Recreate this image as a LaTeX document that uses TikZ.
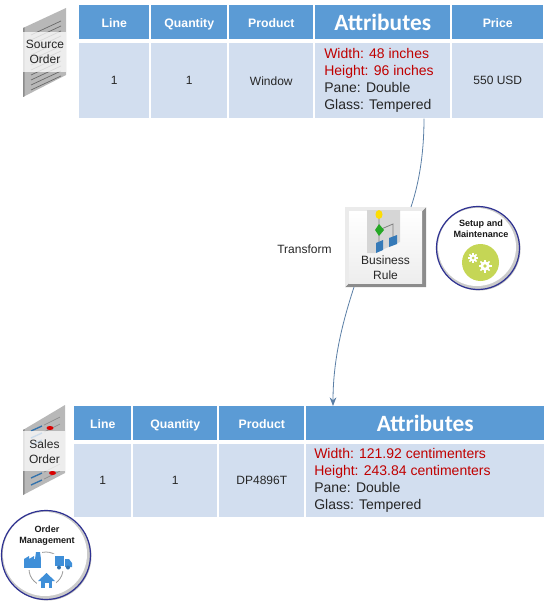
\documentclass[tikz,border=0pt]{standalone}
\usepackage{fontspec}
\setmainfont{Liberation Sans}
\newfontfamily\headfont{Carlito}
\usetikzlibrary{arrows.meta}
\definecolor{headBlue}{HTML}{5B9BD5}
\definecolor{rowBlue}{HTML}{D2DEEF}
\definecolor{attrRed}{HTML}{C00000}
\definecolor{ringBlue}{HTML}{2E3192}
\definecolor{lineBlue}{HTML}{5B7FA6}
\definecolor{iconBlue}{HTML}{3F8FD8}
\definecolor{gearGreen}{HTML}{C5D655}
\tikzset{
    headcell/.style={fill=headBlue, text=white, font=\bfseries\fontsize{9.2}{11}\selectfont, align=center, inner sep=0pt, text height=8.5pt, text depth=1pt},
    bighead/.style={fill=headBlue, text=white, font=\headfont\bfseries\fontsize{17.5}{20}\selectfont, align=center, inner sep=0pt},
    rowcell/.style={fill=rowBlue, text=black!85, font=\fontsize{9}{11}\selectfont, align=center, inner sep=0pt},
    attrcell/.style={fill=rowBlue, text=black!85, font=\fontsize{10.5}{12.75}\selectfont, align=left, inner sep=0pt},
    iconlabel/.style={text=black!85, font=\fontsize{9}{11.5}\selectfont, align=center, inner sep=0pt},
    circlelabel/.style={text=black!90, font=\bfseries\fontsize{6.8}{8.4}\selectfont, align=center, inner sep=0pt},
    flowline/.style={draw=lineBlue, line width=0.6pt}
}
% pixel box: name, left, top, right, bottom, style, text
\newcommand{\cellbox}[7]{
    \node[#6, minimum width=#4*0.75pt-#2*0.75pt, minimum height=#5*0.75pt-#3*0.75pt, anchor=north west] (#1) at (#2,#3) {#7};
}
\newcommand{\ringbadge}[3]{
    \fill[black!25] (#1+1,#2+1) circle (#3);
    \shade[inner color=white, middle color=white, outer color=black!22] (#1,#2) circle (#3);
    \fill[white] (#1-1,#2-1) circle (#3-2.5);
    \draw[ringBlue, line width=0.9pt] (#1,#2) circle (#3);
}
\newcommand{\gearicon}[3]{
    \foreach \a in {0,45,...,315}
        \draw[white, line width=1.3pt] (#1,#2) -- ++(\a:#3);
    \fill[white] (#1,#2) circle (#3*0.72);
    \fill[gearGreen] (#1,#2) circle (#3*0.3);
}
\begin{document}
\begin{tikzpicture}[x=0.75pt, y=-0.75pt]
    \useasboundingbox (0,0) rectangle (548,602);
    % top table
    \cellbox{lineA}{79}{5}{149}{39}{headcell}{Line}
    \cellbox{qtyA}{151}{5}{227}{39}{headcell}{Quantity}
    \cellbox{prodA}{229}{5}{313}{39}{headcell}{Product}
    \cellbox{attrA}{315}{5}{450}{39}{bighead}{Attributes}
    \cellbox{priceA}{452}{5}{543}{39}{headcell}{Price}
    \cellbox{lineValA}{79}{43}{149}{118}{rowcell}{1}
    \cellbox{qtyValA}{151}{43}{227}{118}{rowcell}{1}
    \cellbox{prodValA}{229}{43}{313}{118}{rowcell}{Window}
    \cellbox{attrValA}{315}{43}{450}{118}{attrcell}{}
    \cellbox{priceValA}{452}{43}{543}{118}{rowcell}{550 USD}
    \node[attrcell, fill=none, anchor=west] (attrTextA) at (324,80.5) {\textcolor{attrRed}{Width: 48 inches}\\\textcolor{attrRed}{Height: 96 inches}\\Pane: Double\\Glass: Tempered};

    % source order icon
    \fill[black!28] (23,28) -- (66,8) -- (66,75) -- (23,97) -- cycle;
    \fill[black!45] (23,28) -- (24.5,27.3) -- (24.5,96.3) -- (23,97) -- cycle;
    \foreach \y in {29,34,39,44,49,54,59,64,69,74,79,84}
        \draw[black!60, line width=0.5pt] (31,\y+6) -- (61,\y-8);
    \fill[white, opacity=0.75] (23,32) rectangle (66,72);
    \node[iconlabel] (sourceOrder) at (45,52) {Source\\Order};

    % rule box
    \fill[white] (345,207) rectangle (426,287);
    \fill[black!45] (426,207) -- (426,287) -- (345,287) -- (349,283) -- (422,283) -- (422,211) -- cycle;
    \fill[black!8] (345,207) -- (426,207) -- (422,211) -- (349,211) -- (349,283) -- (345,287) -- cycle;
    \shade[top color=white, bottom color=black!7] (349,211) rectangle (422,283);
    \node[inner sep=0pt, minimum width=60.75pt, minimum height=60pt] (ruleBox) at (385.5,247) {};
    \fill[black!16] (367,210) -- (400,210) -- (400,242) -- (375,253) -- (367,253) -- cycle;
    \draw[black!50, line width=0.6pt] (379,217) -- (379,246) (379,230) -- (393,224) -- (393,240);
    \fill[yellow!80!orange] (379,214.5) ellipse (3.5 and 4.5);
    \fill[green!60!black!85] (379,224) -- (384,230) -- (379,236) -- (375,230) -- cycle;
    \fill[iconBlue!85!black] (376,243) -- (383,240) -- (383,250) -- (376,253) -- cycle;
    \fill[iconBlue!85!black] (389,238) -- (397,235) -- (397,244) -- (389,247) -- cycle;
    \node[iconlabel] (ruleText) at (385.5,267.5) {Business\\Rule};
    \node[iconlabel, anchor=west] (transformText) at (277,249) {Transform};

    % setup badge
    \ringbadge{478}{248}{41.5}
    \node[circlelabel] (setupText) at (481,228.5) {Setup and\\Maintenance};
    \fill[gearGreen] (480.5,262.5) circle (18.5);
    \gearicon{473}{258}{5}
    \gearicon{485}{266}{6.5}

    % bottom table
    \cellbox{lineB}{74}{406}{131}{440}{headcell}{Line}
    \cellbox{qtyB}{133}{406}{217}{440}{headcell}{Quantity}
    \cellbox{prodB}{219}{406}{304}{440}{headcell}{Product}
    \cellbox{attrB}{306}{406}{544}{440}{bighead}{Attributes}
    \cellbox{lineValB}{74}{444}{131}{517}{rowcell}{1}
    \cellbox{qtyValB}{133}{444}{217}{517}{rowcell}{1}
    \cellbox{prodValB}{219}{444}{304}{517}{rowcell}{DP4896T}
    \cellbox{attrValB}{306}{444}{544}{517}{attrcell}{}
    \node[attrcell, fill=none, anchor=west] (attrTextB) at (314,480.5) {\textcolor{attrRed}{Width: 121.92 centimenters}\\\textcolor{attrRed}{Height: 243.84 centimenters}\\Pane: Double\\Glass: Tempered};

    % sales order icon
    \fill[black!28] (23,430) -- (65,405) -- (65,473) -- (23,495) -- cycle;
    \fill[black!45] (23,430) -- (24.5,429) -- (24.5,494.2) -- (23,495) -- cycle;
    \foreach \y in {429,436,443,476,483}
        \draw[iconBlue!80!black, line width=1pt] (31,\y+2) -- (42,\y-3);
    \foreach \y in {429,436,476,483}
        \draw[black!45, line width=0.5pt] (44,\y-4) -- (60,\y-12);
    \fill[red!85!black] (50,428) ellipse (3.5 and 2);
    \fill[red!85!black] (52.5,473) ellipse (3.5 and 2);
    \fill[white, opacity=0.75] (23,431) rectangle (65,471);
    \node[iconlabel] (salesOrder) at (44.5,451.5) {Sales\\Order};

    % order management badge
    \ringbadge{46}{555}{44.5}
    \node[circlelabel] (orderText) at (47,535.5) {Order\\Management};
    \draw[black!40, line width=0.6pt] (46,569) circle (17);
    \fill[white] (23,550) rectangle (42,570);
    \fill[white] (53,554) rectangle (73,571);
    \fill[white] (37,573) rectangle (56,589);
    % factory
    \fill[iconBlue] (24,568) rectangle (41,559);
    \fill[iconBlue] (24,559) -- (29,556) -- (29,559) -- (34,556) -- (34,559) -- cycle;
    \fill[iconBlue] (35,559) -- (36,552) -- (40,552) -- (41,559) -- cycle;
    % truck
    \fill[iconBlue] (55,556) rectangle (64,566);
    \fill[iconBlue] (65,559) -- (69,559) -- (72,563) -- (72,567) -- (65,567) -- cycle;
    \fill[iconBlue!80!black] (59,567.5) circle (2) (68,567.5) circle (2);
    % house
    \fill[iconBlue] (38,581) -- (46.5,573) -- (55,581) -- cycle;
    \fill[iconBlue] (41,581) rectangle (52,588);
    \fill[white] (45,583) rectangle (48.5,588);

    % connectors
    \coordinate (ruleTop) at (411,207);
    \coordinate (ruleBottom) at (354,287);
    \draw[flowline] (attrValA.south -| 424,0) .. controls (424,150) and (420,180) .. (ruleTop);
    \draw[flowline, -{Stealth[length=6.5pt,width=5pt]}] (ruleBottom) .. controls (345,315) and (333,355) .. (attrB.north -| 333,0);
\end{tikzpicture}
\end{document}
